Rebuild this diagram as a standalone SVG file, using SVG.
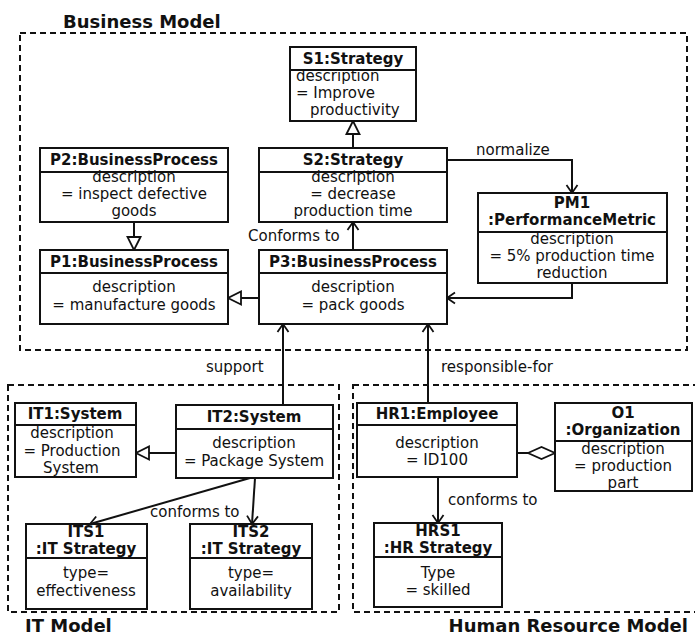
<svg xmlns="http://www.w3.org/2000/svg" width="695" height="637" viewBox="0 0 695 637">
<style>
text{font-family:"DejaVu Sans","Liberation Sans",sans-serif;font-size:15px;fill:#111}
.b{font-weight:bold}
.t{font-weight:bold;font-size:18px}
.c{text-anchor:middle}
.box{fill:#fff;stroke:#111;stroke-width:2}
.sep{stroke:#111;stroke-width:2}
.frame{fill:none;stroke:#111;stroke-width:2;stroke-dasharray:6 4}
.ln{fill:none;stroke:#111;stroke-width:2}
</style>
<defs>
<marker id="gen" markerUnits="userSpaceOnUse" markerWidth="14" markerHeight="14" refX="13" refY="6.5" orient="auto" overflow="visible">
<path d="M0,0 L13,6.5 L0,13 Z" fill="#fff" stroke="#111" stroke-width="1.8"/>
</marker>
<marker id="open" markerUnits="userSpaceOnUse" markerWidth="12" markerHeight="12" refX="8" refY="5.5" orient="auto" overflow="visible">
<path d="M0,0 L8,5.5 L0,11" fill="none" stroke="#111" stroke-width="1.8"/>
</marker>
<marker id="dia" markerUnits="userSpaceOnUse" markerWidth="28" markerHeight="14" refX="27" refY="6" orient="auto" overflow="visible">
<path d="M0,6 L13.5,0 L27,6 L13.5,12 Z" fill="#fff" stroke="#111" stroke-width="1.8"/>
</marker>
</defs>
<rect width="695" height="637" fill="#fff"/>

<g id="frames">
<rect class="frame" x="20" y="33" width="667" height="317"/>
<text class="t" x="63" y="28">Business Model</text>
<rect class="frame" x="8" y="385" width="331" height="227"/>
<text class="t" x="25" y="632">IT Model</text>
<rect class="frame" x="353" y="385" width="360" height="227"/>
<text class="t" x="688" y="632" text-anchor="end">Human Resource Model</text>
</g>

<g id="connectors">
<path class="ln" d="M353,148 V121" marker-end="url(#gen)"/>
<path class="ln" d="M134,222 V250" marker-end="url(#gen)"/>
<path class="ln" d="M259,298 H228" marker-end="url(#gen)"/>
<path class="ln" d="M176,453 H136" marker-end="url(#gen)"/>
<path class="ln" d="M353,250 V222" marker-end="url(#open)"/>
<path class="ln" d="M447,160 H572 V193" marker-end="url(#open)"/>
<path class="ln" d="M572,283 V298 H447" marker-end="url(#open)"/>
<path class="ln" d="M283,405 V324" marker-end="url(#open)"/>
<path class="ln" d="M428,403 V324" marker-end="url(#open)"/>
<path class="ln" d="M250,478 L90,524" marker-end="url(#open)"/>
<path class="ln" d="M255,478 L252,524" marker-end="url(#open)"/>
<path class="ln" d="M438,477 V523" marker-end="url(#open)"/>
<path class="ln" d="M517,453 H555" marker-end="url(#dia)"/>
<text x="248" y="241">Conforms to</text>
<text x="476" y="155">normalize</text>
<text x="206" y="372">support</text>
<text x="441" y="372">responsible-for</text>
<text x="150" y="517">conforms to</text>
<text x="448" y="505">conforms to</text>
</g>

<g id="S1">
<rect class="box" x="290" y="47" width="126" height="74"/>
<line class="sep" x1="290" y1="70" x2="416" y2="70"/>
<text class="b c" x="353" y="64">S1:Strategy</text>
<text x="296" y="81">description</text>
<text x="296" y="98">= Improve</text>
<text x="310" y="115">productivity</text>
</g>

<g id="S2">
<rect class="box" x="259" y="148" width="188" height="74"/>
<line class="sep" x1="259" y1="172" x2="447" y2="172"/>
<text class="b c" x="353" y="165">S2:Strategy</text>
<text class="c" x="353" y="182">description</text>
<text class="c" x="353" y="199">= decrease</text>
<text class="c" x="353" y="216">production time</text>
</g>

<g id="P2">
<rect class="box" x="40" y="148" width="188" height="74"/>
<line class="sep" x1="40" y1="172" x2="228" y2="172"/>
<text class="b c" x="134" y="165">P2:BusinessProcess</text>
<text class="c" x="134" y="182">description</text>
<text class="c" x="134" y="199">= inspect defective</text>
<text class="c" x="134" y="216">goods</text>
</g>

<g id="P1">
<rect class="box" x="40" y="250" width="188" height="74"/>
<line class="sep" x1="40" y1="273" x2="228" y2="273"/>
<text class="b c" x="134" y="267">P1:BusinessProcess</text>
<text class="c" x="134" y="292">description</text>
<text class="c" x="134" y="310">= manufacture goods</text>
</g>

<g id="P3">
<rect class="box" x="259" y="250" width="188" height="74"/>
<line class="sep" x1="259" y1="273" x2="447" y2="273"/>
<text class="b c" x="353" y="267">P3:BusinessProcess</text>
<text class="c" x="353" y="292">description</text>
<text class="c" x="353" y="310">= pack goods</text>
</g>

<g id="PM1">
<rect class="box" x="478" y="193" width="189" height="90"/>
<line class="sep" x1="478" y1="232" x2="667" y2="232"/>
<text class="b c" x="572" y="208">PM1</text>
<text class="b c" x="572" y="225">:PerformanceMetric</text>
<text class="c" x="572" y="244">description</text>
<text class="c" x="572" y="261">= 5% production time</text>
<text class="c" x="572" y="278">reduction</text>
</g>

<g id="IT1">
<rect class="box" x="15" y="403" width="121" height="74"/>
<line class="sep" x1="15" y1="425" x2="136" y2="425"/>
<text class="b c" x="75" y="419">IT1:System</text>
<text class="c" x="72" y="438">description</text>
<text class="c" x="72" y="456">= Production</text>
<text class="c" x="71" y="473">System</text>
</g>

<g id="IT2">
<rect class="box" x="176" y="405" width="157" height="73"/>
<line class="sep" x1="176" y1="429" x2="333" y2="429"/>
<text class="b c" x="254" y="422">IT2:System</text>
<text class="c" x="254" y="448">description</text>
<text class="c" x="254" y="466">= Package System</text>
</g>

<g id="ITS1">
<rect class="box" x="26" y="524" width="121" height="85"/>
<line class="sep" x1="26" y1="558" x2="147" y2="558"/>
<text class="b c" x="86" y="537">ITS1</text>
<text class="b c" x="86" y="554">:IT Strategy</text>
<text class="c" x="86" y="578">type=</text>
<text class="c" x="86" y="596">effectiveness</text>
</g>

<g id="ITS2">
<rect class="box" x="190" y="524" width="122" height="85"/>
<line class="sep" x1="190" y1="558" x2="312" y2="558"/>
<text class="b c" x="251" y="537">ITS2</text>
<text class="b c" x="251" y="554">:IT Strategy</text>
<text class="c" x="251" y="578">type=</text>
<text class="c" x="251" y="596">availability</text>
</g>

<g id="HR1">
<rect class="box" x="357" y="403" width="160" height="74"/>
<line class="sep" x1="357" y1="425" x2="517" y2="425"/>
<text class="b c" x="437" y="419">HR1:Employee</text>
<text class="c" x="437" y="448">description</text>
<text class="c" x="437" y="465">= ID100</text>
</g>

<g id="O1">
<rect class="box" x="555" y="403" width="137" height="88"/>
<line class="sep" x1="555" y1="441" x2="692" y2="441"/>
<text class="b c" x="623" y="418">O1</text>
<text class="b c" x="623" y="435">:Organization</text>
<text class="c" x="623" y="454">description</text>
<text class="c" x="623" y="471">= production</text>
<text class="c" x="623" y="488">part</text>
</g>

<g id="HRS1">
<rect class="box" x="374" y="523" width="128" height="84"/>
<line class="sep" x1="374" y1="557" x2="502" y2="557"/>
<text class="b c" x="438" y="536">HRS1</text>
<text class="b c" x="438" y="553">:HR Strategy</text>
<text class="c" x="438" y="578">Type</text>
<text class="c" x="438" y="595">= skilled</text>
</g>
</svg>
